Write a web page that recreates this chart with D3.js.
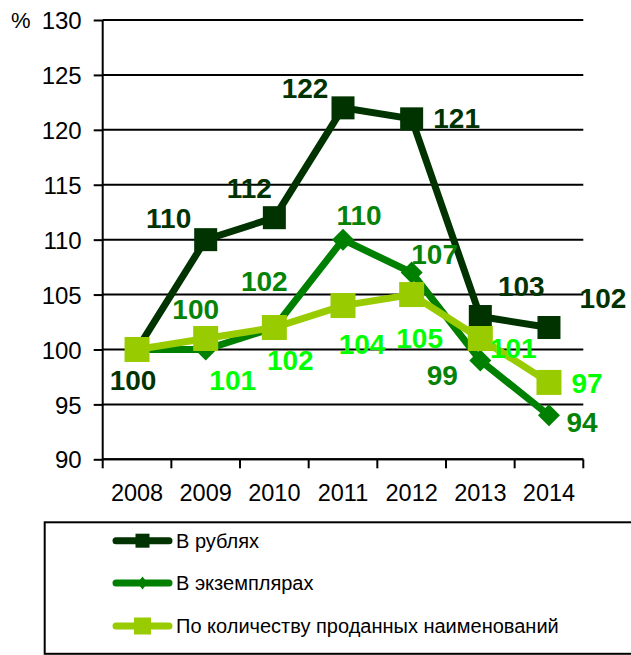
<!DOCTYPE html>
<html>
<head>
<meta charset="utf-8">
<script src="https://cdn.jsdelivr.net/npm/d3@7"></script>
<style>
  html, body { margin: 0; padding: 0; background: #fff; }
  svg { display: block; font-family: "Liberation Sans", Arial, sans-serif; }
</style>
</head>
<body>
<svg id="chart" width="631" height="655"></svg>
<script>
// Years on the category axis
const years = ["2008", "2009", "2010", "2011", "2012", "2013", "2014"];

// Index values, 2008 = 100
const rubles = [100, 110, 112, 122, 121, 103, 102];
const copies = [100, 100, 102, 110, 107, 99, 94];
const titles = [100, 101, 102, 104, 105, 101, 97];

// Which points carry a value label (false = no label)
const copiesLabelled = [false, true, true, true, true, true, true];
const titlesLabelled = [false, true, true, true, true, true, true];

const seriesNames = ["В рублях", "В экземплярах", "По количеству проданных наименований"];
const yTicks = [90, 95, 100, 105, 110, 115, 120, 125, 130];

// Label placement relative to each point (dx, dy of the label centre)
const rublesLabelPos = [[-4, 30], [-37, -22], [-25, -30], [-38, -20], [45, -1], [41, -31], [54, -30]];
const copiesLabelPos = [[0, 0], [-10, -41], [-10, -47], [16, -25], [23, -19], [-38, 14], [33, 7]];
const titlesLabelPos = [[0, 0], [27, 41], [16, 32], [19, 38], [8, 43], [33, 9], [38, 0]];

const svg = d3.select("#chart");

const plot = { left: 102.7, right: 583.3, top: 20, bottom: 459.3 };

const x = d3.scaleBand().domain(years).range([plot.left, plot.right]).padding(0);
const y = d3.scaleLinear().domain([90, 130]).range([plot.bottom, plot.top]);
const cx = d => x(d) + x.bandwidth() / 2;

// Horizontal gridlines
svg.append("g")
  .selectAll("line")
  .data(yTicks)
  .join("line")
  .attr("x1", plot.left).attr("x2", plot.right)
  .attr("y1", d => y(d)).attr("y2", d => y(d))
  .attr("stroke", "#000").attr("stroke-width", 2);

// Y axis
const yAxis = svg.append("g")
  .attr("transform", `translate(${plot.left},0)`)
  .call(d3.axisLeft(y).tickValues(yTicks).tickSize(9).tickPadding(12));
yAxis.select(".domain").attr("stroke", "#000").attr("stroke-width", 2)
  .attr("d", `M0,${plot.top}V${plot.bottom}`);
yAxis.selectAll(".tick line").attr("stroke", "#000").attr("stroke-width", 2);
yAxis.selectAll(".tick text")
  .attr("font-family", "Liberation Sans, Arial, sans-serif")
  .attr("font-size", 24).attr("fill", "#000").attr("dy", "0.36em");

// Percent sign beside the top tick
svg.append("text")
  .attr("x", 11).attr("y", y(130)).attr("dy", "0.36em")
  .attr("font-size", 22).attr("fill", "#000")
  .text("%");

// X axis with ticks on band boundaries
const xAxis = svg.append("g").attr("transform", `translate(0,${plot.bottom})`);
xAxis.append("line")
  .attr("x1", plot.left).attr("x2", plot.right)
  .attr("stroke", "#000").attr("stroke-width", 2);
const boundaries = years.map(d => x(d)).concat([plot.right]);
xAxis.selectAll("line.tick")
  .data(boundaries)
  .join("line")
  .attr("class", "tick")
  .attr("x1", d => d).attr("x2", d => d)
  .attr("y1", 0).attr("y2", 9)
  .attr("stroke", "#000").attr("stroke-width", 2);
xAxis.selectAll("text")
  .data(years)
  .join("text")
  .attr("x", d => cx(d)).attr("y", 42)
  .attr("text-anchor", "middle")
  .attr("font-size", 23.5).attr("fill", "#000")
  .text(d => d);

const series = [
  { name: seriesNames[0], values: rubles, color: "#003300", labelColor: "#003300", marker: "square", size: 23,
    labelled: rubles.map(() => true), pos: rublesLabelPos },
  { name: seriesNames[1], values: copies, color: "#008000", labelColor: "#068206", marker: "diamond", size: 22,
    labelled: copiesLabelled, pos: copiesLabelPos },
  { name: seriesNames[2], values: titles, color: "#99CC00", labelColor: "#00FF00", marker: "square", size: 25,
    labelled: titlesLabelled, pos: titlesLabelPos }
];

const line = d3.line().x((d, i) => cx(years[i])).y(d => y(d));

function drawMarker(g, type, size, color) {
  if (type === "square") {
    g.append("rect")
      .attr("x", -size / 2).attr("y", -size / 2)
      .attr("width", size).attr("height", size)
      .attr("fill", color);
  } else {
    const h = size / 2;
    g.append("path")
      .attr("d", `M0,${-h}L${h},0L0,${h}L${-h},0Z`)
      .attr("fill", color);
  }
}

series.forEach(s => {
  const g = svg.append("g");
  g.append("path")
    .datum(s.values)
    .attr("d", line)
    .attr("fill", "none")
    .attr("stroke", s.color)
    .attr("stroke-width", 7)
    .attr("stroke-linejoin", "miter");
  s.values.forEach((v, i) => {
    const m = g.append("g").attr("transform", `translate(${cx(years[i])},${y(v)})`);
    drawMarker(m, s.marker, s.size, s.color);
  });
});

// Value labels drawn last so they sit on top
series.forEach(s => {
  s.values.forEach((v, i) => {
    if (!s.labelled[i]) return;
    svg.append("text")
      .attr("x", cx(years[i]) + s.pos[i][0])
      .attr("y", y(v) + s.pos[i][1])
      .attr("dy", "0.36em")
      .attr("text-anchor", "middle")
      .attr("font-size", 28).attr("font-weight", "bold")
      .attr("fill", s.labelColor)
      .text(v);
  });
});

// Legend
const legend = svg.append("g");
legend.append("rect")
  .attr("x", 44.7).attr("y", 522.3)
  .attr("width", 620).attr("height", 131.5)
  .attr("fill", "none").attr("stroke", "#000").attr("stroke-width", 2);

const legendRows = [540.7, 583, 626];
const legendMarkerSize = [14, 13, 17];
series.forEach((s, i) => {
  const row = legend.append("g").attr("transform", `translate(0,${legendRows[i]})`);
  row.append("line")
    .attr("x1", 116).attr("x2", 169)
    .attr("stroke", s.color).attr("stroke-width", 7)
    .attr("stroke-linecap", "round");
  const m = row.append("g").attr("transform", "translate(142.5,0)");
  if (s.marker === "diamond") {
    m.append("path").attr("d", "M0,-6.5L5,0L0,6.5L-5,0Z").attr("fill", s.color);
  } else {
    drawMarker(m, "square", legendMarkerSize[i], s.color);
  }
  row.append("text")
    .attr("x", 176).attr("y", 0).attr("dy", "0.36em")
    .attr("font-size", 20).attr("fill", "#000")
    .text(s.name);
});
</script>
</body>
</html>
